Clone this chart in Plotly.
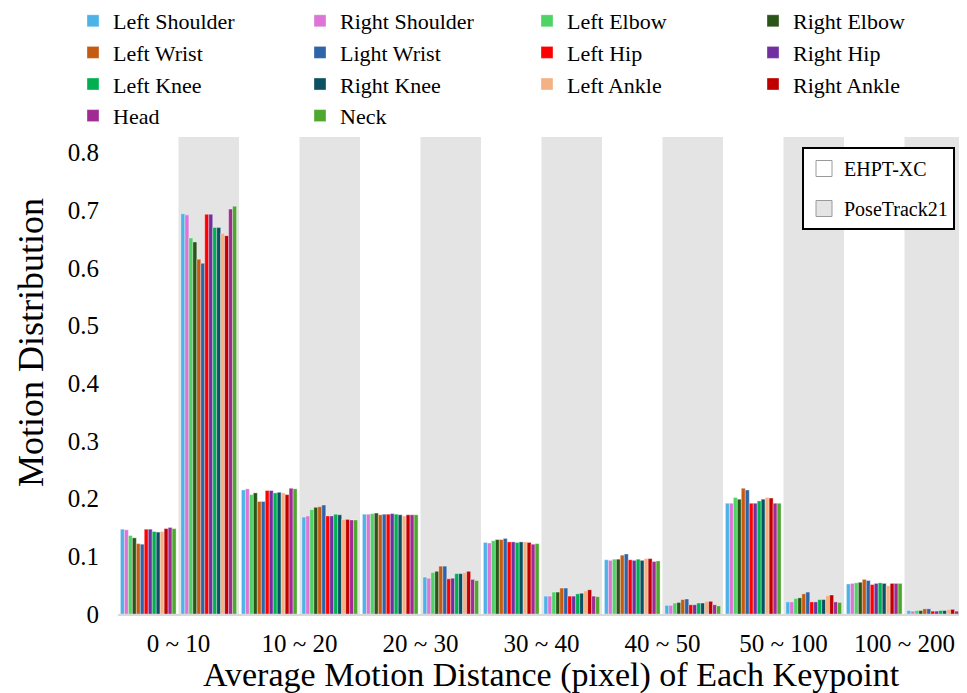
import plotly.graph_objects as go

categories = ["0 ~ 10", "10 ~ 20", "20 ~ 30", "30 ~ 40", "40 ~ 50", "50 ~ 100", "100 ~ 200"]
keypoints = ["Left Shoulder", "Right Shoulder", "Left Elbow", "Right Elbow",
             "Left Wrist", "Light Wrist", "Left Hip", "Right Hip",
             "Left Knee", "Right Knee", "Left Ankle", "Right Ankle",
             "Head", "Neck"]
colors = ["#4DB3E6", "#DC75D6", "#4FD266", "#2A5418",
          "#C55A11", "#2E64A8", "#FF0000", "#7030A0",
          "#00B050", "#0B5063", "#F4B183", "#C00000",
          "#A02B93", "#4EA72E"]

# EHPT-XC values: rows = categories, columns = keypoints
ehpt = [
    [0.147, 0.146, 0.136, 0.132, 0.122, 0.121, 0.147, 0.147, 0.143, 0.142, 0.143, 0.148, 0.150, 0.148],
    [0.215, 0.217, 0.207, 0.210, 0.195, 0.195, 0.214, 0.214, 0.210, 0.211, 0.210, 0.207, 0.218, 0.217],
    [0.173, 0.173, 0.174, 0.175, 0.172, 0.173, 0.173, 0.174, 0.173, 0.172, 0.170, 0.172, 0.172, 0.172],
    [0.124, 0.123, 0.127, 0.129, 0.129, 0.131, 0.125, 0.125, 0.124, 0.125, 0.125, 0.124, 0.121, 0.122],
    [0.094, 0.093, 0.095, 0.095, 0.102, 0.104, 0.094, 0.093, 0.095, 0.093, 0.096, 0.096, 0.091, 0.092],
    [0.192, 0.192, 0.202, 0.199, 0.218, 0.215, 0.192, 0.192, 0.196, 0.199, 0.202, 0.201, 0.192, 0.192],
    [0.052, 0.053, 0.054, 0.055, 0.060, 0.058, 0.051, 0.053, 0.054, 0.053, 0.049, 0.053, 0.053, 0.053],
]
# PoseTrack21 values
posetrack = [
    [0.694, 0.692, 0.652, 0.645, 0.615, 0.608, 0.693, 0.693, 0.670, 0.670, 0.660, 0.656, 0.702, 0.707],
    [0.168, 0.170, 0.181, 0.185, 0.186, 0.189, 0.170, 0.170, 0.173, 0.172, 0.164, 0.164, 0.163, 0.163],
    [0.064, 0.062, 0.072, 0.074, 0.083, 0.083, 0.061, 0.062, 0.070, 0.070, 0.072, 0.074, 0.060, 0.058],
    [0.031, 0.031, 0.038, 0.038, 0.045, 0.045, 0.031, 0.031, 0.035, 0.036, 0.040, 0.042, 0.031, 0.030],
    [0.015, 0.015, 0.019, 0.020, 0.025, 0.026, 0.016, 0.016, 0.019, 0.019, 0.022, 0.022, 0.016, 0.014],
    [0.021, 0.021, 0.027, 0.028, 0.035, 0.038, 0.021, 0.021, 0.025, 0.025, 0.032, 0.033, 0.021, 0.020],
    [0.006, 0.005, 0.006, 0.006, 0.009, 0.009, 0.005, 0.005, 0.006, 0.006, 0.008, 0.008, 0.005, 0.005],
]
datasets = ["EHPT-XC", "PoseTrack21"]
dataset_colors = ["#FFFFFF", "#E4E4E4"]
y_ticks = [0, 0.1, 0.2, 0.3, 0.4, 0.5, 0.6, 0.7, 0.8]
y_ticktext = ["0", "0.1", "0.2", "0.3", "0.4", "0.5", "0.6", "0.7", "0.8"]

n_cat = len(categories)
x_ehpt = [i - 0.25 for i in range(n_cat)]
x_pt = [i + 0.25 for i in range(n_cat)]

FONT = "Liberation Serif"
# the page body adds an 8px offset; size the figure to the visible window
OFF = 8
W, H = 967 - OFF, 693 - OFF
ML, MT = 118 - OFF, 137 - OFF
MR = W - (965 - OFF)
MB = H - (614 - OFF)
PW, PH = W - ML - MR, H - MT - MB

def px_x(px):  # reference-window pixel -> paper fraction
    return (px - OFF - ML) / PW

def px_y(py):
    return 1 - (py - OFF - MT) / PH

col_legends = ["legend", "legend3", "legend4", "legend5"]
col_left_px = [73, 300, 527, 753]

fig = go.Figure()
for k, name in enumerate(keypoints):
    fig.add_trace(go.Bar(
        name=name,
        x=x_ehpt + x_pt,
        y=[row[k] for row in ehpt] + [row[k] for row in posetrack],
        marker=dict(color=colors[k], line=dict(color="rgba(255,255,255,0.7)", width=0.5)),
        legend=col_legends[k % 4],
    ))

for j, ds in enumerate(datasets):
    fig.add_trace(go.Scatter(
        name=ds, x=[None], y=[None], mode="markers",
        marker=dict(symbol="square", size=16, color=dataset_colors[j],
                    line=dict(color="#9A9A9A", width=1)),
        legend="legend2", legendgroup=ds, showlegend=True,
    ))

shapes = []
for i in range(n_cat):
    shapes.append(dict(type="rect", xref="x", yref="paper", x0=i, x1=i + 0.5, y0=0, y1=1,
                       fillcolor=dataset_colors[1], line=dict(width=0), layer="below"))

legend_common = dict(
    orientation="v", xref="paper", yref="paper", xanchor="left", yanchor="top",
    font=dict(family=FONT, size=22, color="black"),
    bgcolor="rgba(0,0,0,0)", borderwidth=0, tracegroupgap=0,
)
layout_legends = {}
for c, lid in enumerate(col_legends):
    layout_legends[lid] = dict(legend_common, x=px_x(col_left_px[c]), y=px_y(0))

fig.update_layout(
    width=W, height=H,
    margin=dict(l=ML, r=MR, t=MT, b=MB, autoexpand=False),
    paper_bgcolor="white", plot_bgcolor="white",
    font=dict(family=FONT, color="black", size=24),
    barmode="group", bargap=0.08, bargroupgap=0,
    shapes=shapes,
    showlegend=True,
    legend2=dict(
        xref="paper", yref="paper",
        x=px_x(802), y=px_y(147), xanchor="left", yanchor="top",
        font=dict(family=FONT, size=20, color="black"),
        bgcolor="white", bordercolor="black", borderwidth=2,
        tracegroupgap=11,
    ),
    annotations=[
        dict(text="Motion Distribution", xref="paper", yref="paper",
             x=px_x(31), y=px_y(343), xanchor="center", yanchor="middle",
             textangle=-90, showarrow=False, font=dict(family=FONT, size=36, color="black")),
        dict(text="Average Motion Distance (pixel) of Each Keypoint", xref="paper", yref="paper",
             x=px_x(551), y=px_y(675), xanchor="center", yanchor="middle",
             showarrow=False, font=dict(family=FONT, size=34, color="black")),
    ],
    xaxis=dict(
        range=[-0.5, n_cat - 0.5],
        tickmode="array", tickvals=list(range(n_cat)), ticktext=categories,
        showgrid=False, zeroline=False, showline=True, linecolor="#D9D9D9", linewidth=1.5,
        ticks="", ticklabelstandoff=6,
        tickfont=dict(family=FONT, size=25),
    ),
    yaxis=dict(
        range=[0, 0.827], tickmode="array",
        tickvals=y_ticks, ticktext=y_ticktext,
        showgrid=False, zeroline=False, showline=False, ticks="",
        ticklabelstandoff=18,
        tickfont=dict(family=FONT, size=25),
    ),
    **layout_legends,
)

fig.write_html("out.html")
